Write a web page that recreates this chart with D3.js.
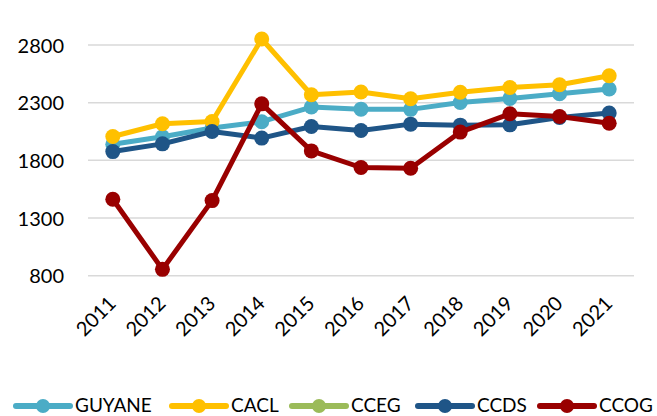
<!DOCTYPE html>
<html>
<head>
<meta charset="utf-8">
<script src="https://cdn.jsdelivr.net/npm/d3@7"></script>
<style>
  html, body { margin: 0; padding: 0; background: #fff; }
  svg { display: block; font-family: Lato, "Open Sans", sans-serif; }
</style>
</head>
<body>
<svg id="chart" width="657" height="416"></svg>
<script>
// Years on the horizontal axis
const years = ["2011", "2012", "2013", "2014", "2015", "2016", "2017", "2018", "2019", "2020", "2021"];

// Values per territory
const guyane = [1940, 2005, 2080, 2135, 2262, 2244, 2242, 2302, 2337, 2378, 2418];
const cacl   = [2007, 2117, 2137, 2852, 2369, 2392, 2334, 2390, 2432, 2455, 2533];
const cceg   = [null, null, null, null, null, null, null, null, null, null, null];
const ccds   = [1876, 1943, 2050, 1993, 2093, 2059, 2114, 2105, 2108, 2172, 2210];
const ccog   = [1463, 855, 1451, 2290, 1882, 1738, 1732, 2045, 2204, 2180, 2122];

// Y axis ticks
const yTicks = [800, 1300, 1800, 2300, 2800];

const seriesNames = ["GUYANE", "CACL", "CCEG", "CCDS", "CCOG"];
const seriesValues = [guyane, cacl, cceg, ccds, ccog];
const seriesColors = ["#4BACC6", "#FFC000", "#9BBB59", "#1F5587", "#990000"];

const series = seriesNames.map((name, i) => ({
  name,
  color: seriesColors[i],
  values: years.map((y, j) => ({ year: y, value: seriesValues[i][j] }))
}));

const svg = d3.select("#chart");

const x = d3.scalePoint().domain(years).range([88, 634]).padding(0.5);
const y = d3.scaleLinear().domain([800, 2800]).range([275.7, 45]);

// Horizontal gridlines
svg.append("g")
  .selectAll("line")
  .data(yTicks)
  .join("line")
  .attr("x1", 88).attr("x2", 634)
  .attr("y1", d => y(d)).attr("y2", d => y(d))
  .attr("stroke", "#d9d9d9")
  .attr("stroke-width", 1.5);

// Y axis labels
const yAxis = d3.axisLeft(y).tickValues(yTicks).tickFormat(d3.format("d")).tickSize(0).tickPadding(0);
svg.append("g")
  .attr("transform", "translate(64,0)")
  .call(yAxis)
  .call(g => g.select(".domain").remove())
  .call(g => g.selectAll("text")
    .attr("font-family", "Lato, 'Open Sans', sans-serif")
    .attr("font-size", 20)
    .attr("fill", "#000")
    .attr("dy", "0.36em"));

// X axis labels, rotated
const xAxis = d3.axisBottom(x).tickSize(0).tickPadding(0);
svg.append("g")
  .attr("transform", "translate(0,275.7)")
  .call(xAxis)
  .call(g => g.select(".domain").remove())
  .call(g => g.selectAll("text")
    .attr("font-family", "Lato, 'Open Sans', sans-serif")
    .attr("font-size", 20)
    .attr("fill", "#000")
    .attr("text-anchor", "end")
    .attr("dy", 0)
    .attr("transform", "translate(4,29) rotate(-45)"));

// Lines and markers
const line = d3.line()
  .defined(d => d.value != null)
  .x(d => x(d.year))
  .y(d => y(d.value));

const sg = svg.append("g")
  .selectAll("g")
  .data(series)
  .join("g");

sg.append("path")
  .attr("d", d => line(d.values))
  .attr("fill", "none")
  .attr("stroke", d => d.color)
  .attr("stroke-width", 5)
  .attr("stroke-linejoin", "round");

sg.each(function(s) {
  d3.select(this).selectAll("circle")
    .data(s.values.filter(d => d.value != null))
    .join("circle")
    .attr("cx", d => x(d.year))
    .attr("cy", d => y(d.value))
    .attr("r", 7.5)
    .attr("fill", s.color);
});

// Legend
const legendX = [16, 172, 292, 418, 540];
const legendY = 406;
const lg = svg.append("g")
  .selectAll("g")
  .data(series)
  .join("g")
  .attr("transform", (d, i) => `translate(${legendX[i]},${legendY})`);

lg.append("line")
  .attr("x1", 0).attr("x2", 54)
  .attr("y1", 0).attr("y2", 0)
  .attr("stroke", d => d.color)
  .attr("stroke-width", 6)
  .attr("stroke-linecap", "round");

lg.append("circle")
  .attr("cx", 27).attr("cy", 0)
  .attr("r", 7)
  .attr("fill", d => d.color);

lg.append("text")
  .attr("x", 59)
  .attr("y", 0)
  .attr("dy", "0.34em")
  .attr("font-size", 19)
  .attr("fill", "#000")
  .text(d => d.name);
</script>
</body>
</html>
